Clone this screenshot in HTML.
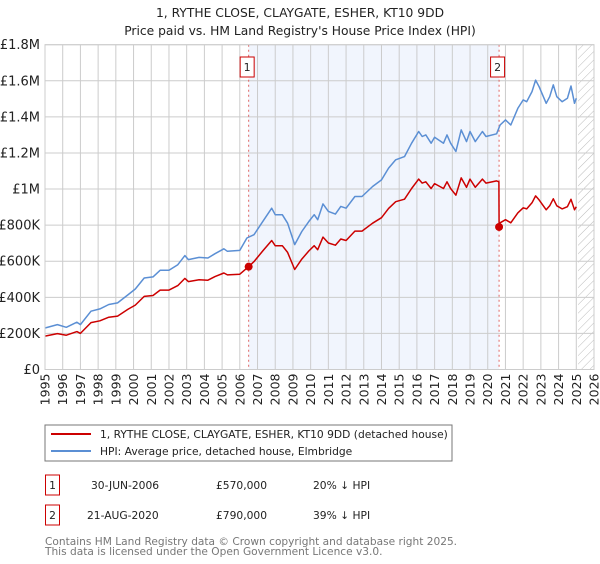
<!DOCTYPE html>
<html><head><meta charset="utf-8"><style>
body{margin:0;background:#fff;font-family:"DejaVu Sans","Liberation Sans",sans-serif;}
svg text{font-family:"DejaVu Sans","Liberation Sans",sans-serif;}
</style></head><body>
<svg id="chart" width="600" height="560" viewBox="0 0 600 560" xmlns="http://www.w3.org/2000/svg">
<defs><pattern id="hatch" width="6" height="6" patternUnits="userSpaceOnUse" patternTransform="rotate(45)"><line x1="0" y1="0" x2="0" y2="6" stroke="#bbb" stroke-width="1"/></pattern></defs>
<text x="300" y="17" text-anchor="middle" font-size="12.3" fill="#222">1, RYTHE CLOSE, CLAYGATE, ESHER, KT10 9DD</text>
<text x="300" y="35" text-anchor="middle" font-size="12.3" fill="#222">Price paid vs. HM Land Registry's House Price Index (HPI)</text>
<g id="plot"></g>
<rect x="45" y="425" width="407" height="36" fill="#fff" stroke="#777"/>
<line x1="51" y1="434" x2="91" y2="434" stroke="#cc0000" stroke-width="2"/>
<text x="100" y="438" font-size="10.7" fill="#222">1, RYTHE CLOSE, CLAYGATE, ESHER, KT10 9DD (detached house)</text>
<line x1="51" y1="451" x2="91" y2="451" stroke="#5b8fd4" stroke-width="2"/>
<text x="100" y="455" font-size="10.7" fill="#222">HPI: Average price, detached house, Elmbridge</text>
<g>
<rect x="45.5" y="475" width="14" height="20" fill="#fff" stroke="#cc0000"/>
<text x="52.5" y="489" text-anchor="middle" font-size="10.7" fill="#222">1</text>
<text x="91" y="489" font-size="10.7" fill="#222">30-JUN-2006</text>
<text x="216" y="489" font-size="10.7" fill="#222">£570,000</text>
<text x="313" y="489" font-size="10.7" fill="#222">20% ↓ HPI</text>
</g>
<g>
<rect x="45.5" y="505" width="14" height="20" fill="#fff" stroke="#cc0000"/>
<text x="52.5" y="519" text-anchor="middle" font-size="10.7" fill="#222">2</text>
<text x="87" y="519" font-size="10.7" fill="#222">21-AUG-2020</text>
<text x="216" y="519" font-size="10.7" fill="#222">£790,000</text>
<text x="313" y="519" font-size="10.7" fill="#222">39% ↓ HPI</text>
</g>
<text x="45" y="545" font-size="10.6" fill="#777">Contains HM Land Registry data © Crown copyright and database right 2025.</text>
<text x="45" y="555" font-size="10.6" fill="#777">This data is licensed under the Open Government Licence v3.0.</text>
</svg>
<script>
const hpiYears=[1995.0,1995.7,1996.2,1996.8,1997.0,1997.6,1998.1,1998.6,1999.1,1999.7,2000.1,2000.6,2001.1,2001.5,2002.0,2002.5,2002.9,2003.1,2003.7,2004.2,2004.6,2005.1,2005.3,2006.0,2006.4,2006.8,2007.3,2007.8,2008.0,2008.4,2008.7,2009.1,2009.5,2009.9,2010.2,2010.4,2010.7,2011.0,2011.4,2011.7,2012.0,2012.5,2012.9,2013.5,2014.0,2014.4,2014.8,2015.3,2015.7,2016.1,2016.3,2016.5,2016.8,2017.0,2017.5,2017.7,2017.9,2018.2,2018.5,2018.8,2019.0,2019.3,2019.7,2019.9,2020.5,2020.7,2021.0,2021.3,2021.7,2022.0,2022.2,2022.5,2022.7,2022.9,2023.3,2023.5,2023.7,2023.9,2024.2,2024.5,2024.7,2024.9,2025.0];
const hpiValues=[230,249,234,262,249,323,336,360,369,415,446,507,513,550,550,581,631,609,621,618,642,669,655,660,729,747,821,894,858,858,811,692,765,821,858,830,918,876,861,904,894,959,959,1014,1051,1116,1162,1180,1254,1319,1291,1300,1254,1287,1254,1300,1254,1208,1328,1263,1319,1263,1319,1291,1306,1355,1383,1355,1447,1494,1484,1540,1604,1567,1475,1512,1577,1512,1484,1503,1571,1475,1503];
const priceYears=[1995.0,1995.7,1996.2,1996.8,1997.0,1997.6,1998.1,1998.6,1999.1,1999.7,2000.1,2000.6,2001.1,2001.5,2002.0,2002.5,2002.9,2003.1,2003.7,2004.2,2004.6,2005.1,2005.3,2006.0,2006.5,2006.8,2007.3,2007.8,2008.0,2008.4,2008.7,2009.1,2009.5,2009.9,2010.2,2010.4,2010.7,2011.0,2011.4,2011.7,2012.0,2012.5,2012.9,2013.5,2014.0,2014.4,2014.8,2015.3,2015.7,2016.1,2016.3,2016.5,2016.8,2017.0,2017.5,2017.7,2017.9,2018.2,2018.5,2018.8,2019.0,2019.3,2019.7,2019.9,2020.5,2020.63,2020.64,2020.7,2021.0,2021.3,2021.7,2022.0,2022.2,2022.5,2022.7,2022.9,2023.3,2023.5,2023.7,2023.9,2024.2,2024.5,2024.7,2024.9,2025.0];
const priceValues=[185,199,190,210,200,260,270,290,296,335,357,405,410,440,440,465,505,487,497,495,515,535,524,528,570,598,657,715,686,686,649,554,612,657,686,664,734,701,689,723,715,767,767,811,841,893,930,944,1003,1055,1033,1040,1003,1030,1003,1040,1003,966,1062,1010,1055,1010,1055,1033,1045,1040,790,813,830,813,868,896,890,924,962,940,885,907,946,907,890,902,943,885,902];
const saleYears=[2006.5,2020.64];
const saleValues=[570,790];
const saleLabels=["1","2"];
const yTicks=[0,200,400,600,800,1000,1200,1400,1600,1800];
const yTickLabels=["£0","£200K","£400K","£600K","£800K","£1M","£1.2M","£1.4M","£1.6M","£1.8M"];
const xYears=[1995,1996,1997,1998,1999,2000,2001,2002,2003,2004,2005,2006,2007,2008,2009,2010,2011,2012,2013,2014,2015,2016,2017,2018,2019,2020,2021,2022,2023,2024,2025,2026];

const NS="http://www.w3.org/2000/svg";
const L=45,R=594,T=44.7,B=369.5;
const xs=y=>L+(y-1995)/(2026-1995)*(R-L);
const ys=v=>B-v/1800*(B-T);
const g=document.getElementById('plot');
function mk(tag,attrs,parent){const e=document.createElementNS(NS,tag);for(const k in attrs)e.setAttribute(k,attrs[k]);(parent||g).appendChild(e);return e;}

let e=mk('rect',{x:xs(saleYears[0]),y:T,width:xs(saleYears[1])-xs(saleYears[0]),height:B-T,fill:'#eef3fc',opacity:0.8});


e=mk('rect',{x:xs(2025.1),y:T,width:R-xs(2025.1),height:B-T,fill:'url(#hatch)'});


xYears.forEach(y=>{
  const l=mk('line',{x1:xs(y),x2:xs(y),y1:T,y2:B,stroke:'#cccccc','stroke-width':1});
  
  
  const t=mk('text',{x:0,y:0,'font-size':12.5,fill:'#222','text-anchor':'end',transform:`translate(${xs(y)+4.5},${B+4}) rotate(-90)`});
  t.textContent=y;
  
  
});
yTicks.forEach((v,i)=>{
  const l=mk('line',{x1:L,x2:R,y1:ys(v),y2:ys(v),stroke:'#cccccc','stroke-width':1});
  
  
  const t=mk('text',{x:40,y:ys(v)+4.5,'font-size':13,fill:'#222','text-anchor':'end'});
  t.textContent=yTickLabels[i];
  
  
});
saleYears.forEach((y,i)=>{
  const l=mk('line',{x1:xs(y),x2:xs(y),y1:T,y2:B,stroke:'#e06666','stroke-width':1,'stroke-dasharray':'2,3'});
  
  
});
function path(xa,va,color,name){
  const d=xa.map((x,i)=>(i?'L':'M')+xs(x).toFixed(1)+','+ys(va[i]*1).toFixed(1)).join(' ');
  const p=mk('path',{d:d,fill:'none',stroke:color,'stroke-width':1.5,'stroke-linejoin':'round'});
  
  
}
path(hpiYears,hpiValues,'#5b8fd4','hpi-line');
path(priceYears,priceValues,'#cc0000','price-line');
saleYears.forEach((y,i)=>{
  const c=mk('circle',{cx:xs(y),cy:ys(saleValues[i]),r:4,fill:'#cc0000'});
  
  
  const bx=mk('rect',{x:xs(y)-8.5,y:57,width:14,height:20,fill:'#fff',stroke:'#cc0000'});
  
  
  const t=mk('text',{x:xs(y)-1.5,y:71,'font-size':11,fill:'#222','text-anchor':'middle'});
  t.textContent=saleLabels[i];
  
  
});
e=mk('rect',{x:L,y:T,width:R-L,height:B-T,fill:'none',stroke:'#cccccc'});


</script>
</body></html>
